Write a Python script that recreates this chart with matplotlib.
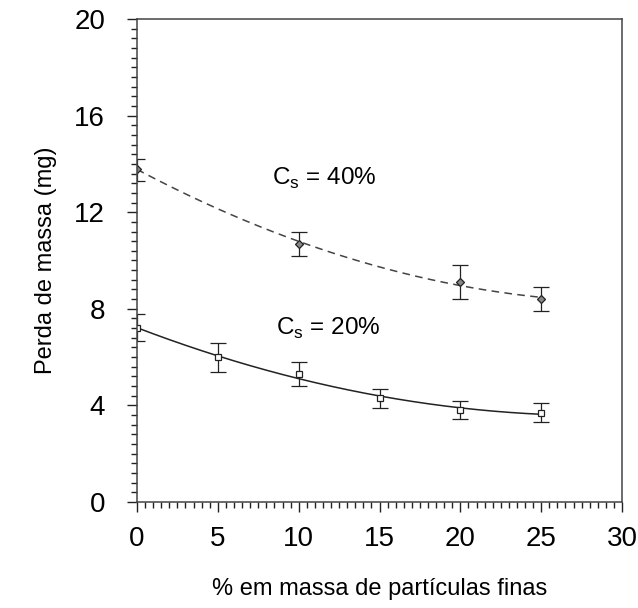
import matplotlib
matplotlib.use('Agg')
import matplotlib.pyplot as plt
import numpy as np

plt.rcParams['font.family'] = ['Liberation Sans', 'DejaVu Sans']
plt.rcParams['mathtext.fontset'] = 'custom'
plt.rcParams['mathtext.rm'] = 'Liberation Sans'

# finos (%) vs perda de massa (mg)
x40 = [0, 10, 20, 25]
y40 = [13.8, 10.7, 9.1, 8.4]
lo40 = [13.3, 10.2, 8.4, 7.9]
hi40 = [14.2, 11.2, 9.8, 8.9]

x20 = [0, 5, 10, 15, 20, 25]
y20 = [7.2, 6.0, 5.3, 4.3, 3.8, 3.7]
lo20 = [6.65, 5.4, 4.8, 3.9, 3.42, 3.3]
hi20 = [7.8, 6.6, 5.8, 4.7, 4.2, 4.1]

fig = plt.figure(figsize=(6.38, 6.08), dpi=100)
ax = fig.add_axes([0.2147, 0.1743, 0.7603, 0.7945])

dark = '#222222'

# fitted trend lines
xs = np.linspace(0, 25, 200)
p40 = np.polyfit(x40, y40, 2)
p20 = np.polyfit(x20, y20, 2)
ax.plot(xs, np.polyval(p40, xs), color='#444444', ls=(0, (5, 3.5)), lw=1.1)
ax.plot(xs, np.polyval(p20, xs), color=dark, lw=1.1)

err40 = [np.array(y40) - np.array(lo40), np.array(hi40) - np.array(y40)]
err20 = [np.array(y20) - np.array(lo20), np.array(hi20) - np.array(y20)]
ax.errorbar(x40, y40, yerr=err40, fmt='D', ms=4.5, mfc='#888888', mec=dark,
            mew=0.9, ecolor=dark, elinewidth=0.9, capsize=6, capthick=0.9)
ax.errorbar(x20, y20, yerr=err20, fmt='s', ms=5, mfc='white', mec=dark,
            mew=0.9, ecolor=dark, elinewidth=0.9, capsize=6, capthick=0.9)

ax.text(11.6, 13.4, r'C$_\mathrm{s}$ = 40%', fontsize=17.5, ha='center', va='center')
ax.text(11.8, 7.2, r'C$_\mathrm{s}$ = 20%', fontsize=17.5, ha='center', va='center')

ax.set_xlim(0, 30)
ax.set_ylim(0, 20)
ax.set_xticks([0, 5, 10, 15, 20, 25, 30])
ax.set_yticks([0, 4, 8, 12, 16, 20])
ax.set_xticks(np.arange(0, 30.01, 0.5), minor=True)
ax.set_yticks(np.arange(0, 20.01, 0.4), minor=True)
ax.tick_params(which='both', direction='out', top=False, right=False,
               colors=dark, labelcolor='black', labelsize=20, width=1)
ax.tick_params(which='major', length=7)
ax.tick_params(which='minor', length=4.5)
ax.tick_params(axis='x', which='major', pad=10)
ax.tick_params(axis='y', which='major', pad=16)
for s in ax.spines.values():
    s.set_color('#444444')
    s.set_linewidth(1.1)

ax.set_xlabel('% em massa de partículas finas', fontsize=17, labelpad=19)
ax.set_ylabel('Perda de massa (mg)', fontsize=17, labelpad=12)

fig.savefig('out.png', dpi=100)
